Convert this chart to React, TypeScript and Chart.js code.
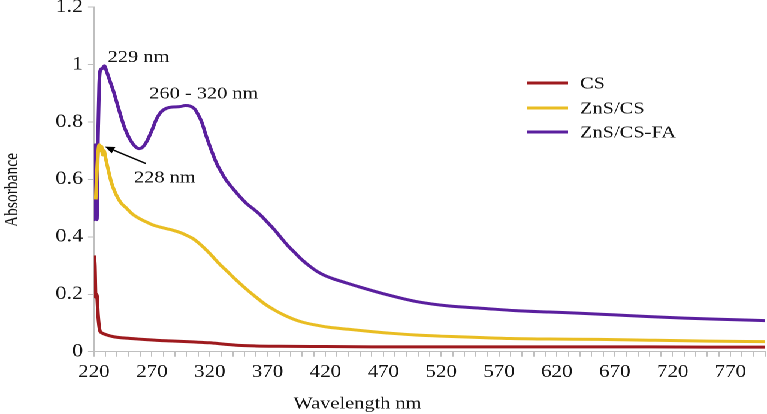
import React, { useEffect, useRef } from 'react';
import { Chart, registerables } from 'chart.js';

Chart.register(...registerables);

// ---- data ----
const csWavelength = [220, 220.8, 221.5, 222, 222.6, 223.5, 225, 226.6, 230, 237, 245, 255, 265, 277, 290, 305, 320, 333, 345, 360, 380, 420, 460, 500, 550, 600, 650, 700, 750, 800];
const csAbsorbance = [0.335, 0.3, 0.19, 0.2, 0.195, 0.13, 0.075, 0.066, 0.06, 0.052, 0.048, 0.045, 0.042, 0.039, 0.037, 0.034, 0.031, 0.026, 0.022, 0.02, 0.019, 0.018, 0.017, 0.017, 0.017, 0.017, 0.017, 0.017, 0.016, 0.016];

const zncsWavelength = [221.5, 223, 224.5, 225.5, 226.5, 227.5, 228.6, 230, 232.4, 235, 238, 243, 248, 253, 259, 265, 271, 277, 283, 288, 295, 300, 305, 310, 315, 320, 328, 335, 343, 351, 360, 368, 376, 384, 392, 400, 410, 423, 440, 460, 477, 498, 520, 535, 556, 580, 613, 656, 700, 750, 800];
const zncsAbsorbance = [0.53, 0.66, 0.72, 0.7, 0.715, 0.685, 0.7, 0.675, 0.632, 0.59, 0.557, 0.52, 0.5, 0.48, 0.464, 0.452, 0.441, 0.434, 0.428, 0.423, 0.414, 0.405, 0.395, 0.38, 0.362, 0.342, 0.307, 0.28, 0.249, 0.22, 0.19, 0.165, 0.145, 0.128, 0.114, 0.103, 0.094, 0.085, 0.078, 0.07, 0.064, 0.058, 0.054, 0.052, 0.049, 0.046, 0.044, 0.043, 0.04, 0.037, 0.035];

const zncsFaWavelength = [220, 220.5, 221, 221.5, 222, 222.5, 223.5, 224.5, 225.5, 227, 229, 231, 234, 237, 241, 246, 251, 256, 259, 262, 266, 270, 274, 278, 283, 288, 294, 299, 303, 307, 310, 313, 317, 322, 326, 330, 334, 340, 346, 352, 358, 364, 370, 376, 382, 388, 394, 400, 406, 413, 420, 428, 436, 449, 469, 498, 527, 556, 584, 613, 640, 670, 700, 730, 760, 800];
const zncsFaAbsorbance = [0.72, 0.46, 0.72, 0.47, 0.72, 0.46, 0.75, 0.93, 0.98, 0.985, 0.995, 0.975, 0.94, 0.905, 0.85, 0.785, 0.74, 0.713, 0.707, 0.712, 0.735, 0.77, 0.81, 0.835, 0.848, 0.852, 0.853, 0.857, 0.855, 0.845, 0.825, 0.8, 0.75, 0.695, 0.655, 0.625, 0.598, 0.568, 0.54, 0.515, 0.496, 0.475, 0.45, 0.424, 0.395, 0.367, 0.343, 0.319, 0.299, 0.279, 0.264, 0.252, 0.242, 0.226, 0.203, 0.175, 0.159, 0.151, 0.143, 0.138, 0.134, 0.128, 0.122, 0.117, 0.113, 0.108];

const seriesNames = ['CS', 'ZnS/CS', 'ZnS/CS-FA'];
const seriesColors = ['#9E1A1E', '#E9BD22', '#5A1F9E'];

const xMin = 220;
const xMax = 800;
const xStep = 10;
const xLabelEvery = 50;
const yMin = 0;
const yMax = 1.2;
const yStep = 0.2;

const xTitle = 'Wavelength nm';
const yTitle = 'Absorbance';

const annotationTexts = ['229 nm', '260 - 320 nm', '228 nm'];
const annotationWavelengths = [231.8, 267.7, 254.5];
const annotationAbsorbances = [1.009, 0.882, 0.589];
const arrowFrom = [264.8, 0.655];
const arrowTo = [229.5, 0.714];

// ---- layout ----
const OUT_W = 767;
const OUT_H = 414;
const INNER_W = 640;
const STRETCH = OUT_W / INNER_W;
const FONT = "'Liberation Serif', 'Times New Roman', serif";
const TEXT = '#141414';
const AXIS = '#BFBFBF';

function pts(xs: number[], ys: number[]) {
  return xs.map((x, i) => ({ x, y: ys[i] }));
}

const overlay = {
  id: 'overlay',
  afterDraw(chart: any) {
    const ctx = chart.ctx as CanvasRenderingContext2D;
    const xs = chart.scales.x;
    const ys = chart.scales.y;
    ctx.save();
    ctx.fillStyle = TEXT;
    ctx.textBaseline = 'alphabetic';
    ctx.textAlign = 'left';
    ctx.font = `17px ${FONT}`;
    annotationTexts.forEach((t, i) => {
      ctx.fillText(t, xs.getPixelForValue(annotationWavelengths[i]), ys.getPixelForValue(annotationAbsorbances[i]));
    });
    // arrow
    const x0 = xs.getPixelForValue(arrowFrom[0]);
    const y0 = ys.getPixelForValue(arrowFrom[1]);
    const x1 = xs.getPixelForValue(arrowTo[0]);
    const y1 = ys.getPixelForValue(arrowTo[1]);
    const ang = Math.atan2(y1 - y0, x1 - x0);
    const hl = 8;
    const hw = 3.5;
    const bx = x1 - Math.cos(ang) * hl;
    const by = y1 - Math.sin(ang) * hl;
    ctx.strokeStyle = '#000';
    ctx.lineWidth = 1.4;
    ctx.beginPath();
    ctx.moveTo(x0, y0);
    ctx.lineTo(bx, by);
    ctx.stroke();
    ctx.fillStyle = '#000';
    ctx.beginPath();
    ctx.moveTo(x1, y1);
    ctx.lineTo(bx + Math.sin(ang) * hw, by - Math.cos(ang) * hw);
    ctx.lineTo(bx - Math.sin(ang) * hw, by + Math.cos(ang) * hw);
    ctx.closePath();
    ctx.fill();

    // legend
    const lx0 = 439.8;
    const lx1 = 474;
    const tx = 484;
    const rows = [83, 108, 132];
    ctx.font = `17px ${FONT}`;
    ctx.textBaseline = 'middle';
    seriesNames.forEach((n, i) => {
      ctx.strokeStyle = seriesColors[i];
      ctx.lineWidth = 3;
      ctx.beginPath();
      ctx.moveTo(lx0, rows[i]);
      ctx.lineTo(lx1, rows[i]);
      ctx.stroke();
      ctx.fillStyle = TEXT;
      ctx.fillText(n, tx, rows[i] + 1);
    });

    // axis titles
    ctx.fillStyle = TEXT;
    ctx.textAlign = 'center';
    ctx.textBaseline = 'middle';
    ctx.font = `17px ${FONT}`;
    ctx.fillText(xTitle, 298.3, 404);
    ctx.save();
    ctx.translate(10.5, 190);
    ctx.rotate(-Math.PI / 2);
    ctx.font = `15.5px ${FONT}`;
    ctx.fillText(yTitle, 0, 0);
    ctx.restore();
    ctx.restore();
  },
};

export default function App() {
  const ref = useRef<HTMLCanvasElement>(null);
  useEffect(() => {
    const canvas = ref.current;
    if (!canvas) return;
    const datasets = [
      pts(csWavelength, csAbsorbance),
      pts(zncsWavelength, zncsAbsorbance),
      pts(zncsFaWavelength, zncsFaAbsorbance),
    ].map((d, i) => ({
      label: seriesNames[i],
      data: d,
      borderColor: seriesColors[i],
      backgroundColor: seriesColors[i],
      borderWidth: 3,
      pointRadius: 0,
      tension: 0,
      cubicInterpolationMode: 'monotone' as const,
      fill: false,
    }));
    const chart = new Chart(canvas, {
      type: 'line',
      data: { datasets },
      options: {
        animation: false,
        responsive: true,
        maintainAspectRatio: false,
        devicePixelRatio: 2,
        layout: { padding: { top: 7, left: 0, right: 0, bottom: 0 } },
        plugins: { legend: { display: false }, tooltip: { enabled: false } },
        scales: {
          x: {
            type: 'linear',
            min: xMin,
            max: xMax,
            border: { display: true, color: AXIS, width: 1 },
            grid: { display: true, drawOnChartArea: false, drawTicks: true, tickLength: 5, color: AXIS },
            ticks: {
              stepSize: xStep,
              autoSkip: false,
              maxRotation: 0,
              minRotation: 0,
              maxTicksLimit: 200,
              padding: 5,
              color: TEXT,
              font: { family: FONT, size: 17.5 },
              callback: (v: any) => {
                const n = Math.round(Number(v));
                return (n - xMin) % xLabelEvery === 0 ? String(n) : '';
              },
            },
            afterFit(s: any) {
              s.height = OUT_H - 351.7;
              s.paddingLeft = 0;
              s.paddingRight = 0;
            },
          },
          y: {
            min: yMin,
            max: yMax,
            border: { display: true, color: AXIS, width: 1 },
            grid: { display: true, drawOnChartArea: false, drawTicks: true, tickLength: 5, color: AXIS },
            ticks: {
              stepSize: yStep,
              padding: 4,
              color: TEXT,
              font: { family: FONT, size: 18.5 },
              callback: (v: any) => String(Math.round(Number(v) * 10) / 10),
            },
            afterFit(s: any) {
              s.width = 94 / STRETCH;
              s.paddingTop = 0;
              s.paddingBottom = 0;
            },
          },
        },
      },
      plugins: [overlay],
    });
    return () => chart.destroy();
  }, []);
  return (
    <div
      style={{
        position: 'fixed',
        left: 0,
        top: 0,
        width: INNER_W,
        height: OUT_H,
        transform: `scaleX(${STRETCH})`,
        transformOrigin: '0 0',
        background: '#fff',
      }}
    >
      <canvas ref={ref} />
    </div>
  );
}
